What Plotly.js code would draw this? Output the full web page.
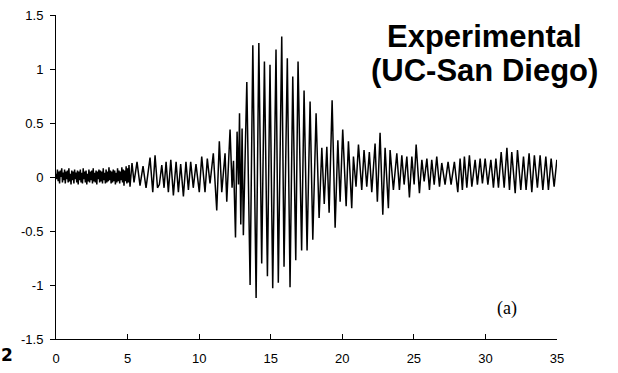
<!DOCTYPE html>
<html>
<head>
<meta charset="utf-8">
<script src="https://cdn.plot.ly/plotly-3.0.1.min.js"></script>
<style>html,body{margin:0;padding:0;background:#fff;}#chart{width:618px;height:373px;}</style>
</head>
<body>
<div id="chart"></div>
<script>
// Pre-event noise (time in s, acceleration)
const noiseTime = [0.00,0.05,0.10,0.15,0.20,0.25,0.30,0.35,0.40,0.45,0.50,0.55,0.60,0.65,0.70,0.75,0.80,0.85,0.90,0.95,1.00,1.05,1.10,1.15,1.20,1.25,1.30,1.35,1.40,1.45,1.50,1.55,1.60,1.65,1.70,1.75,1.80,1.85,1.90,1.95,2.00,2.05,2.10,2.15,2.20,2.25,2.30,2.35,2.40,2.45,2.50,2.55,2.60,2.65,2.70,2.75,2.80,2.85,2.90,2.95,3.00,3.05,3.10,3.15,3.20,3.25,3.30,3.35,3.40,3.45,3.50,3.55,3.60,3.65,3.70,3.75,3.80,3.85,3.90,3.95,4.00,4.05,4.10,4.15,4.20,4.25,4.30,4.35,4.40,4.45,4.50,4.55,4.60,4.65,4.70,4.75,4.80,4.85,4.90,4.95,5.00,5.05,5.10,5.15];
const noiseValue = [0.03,-0.02,0.07,-0.04,0.05,-0.06,0.06,0.00,0.08,-0.05,
  0.04,-0.03,0.07,-0.06,0.05,-0.02,0.06,-0.05,0.08,-0.04,
  0.03,-0.07,0.06,-0.03,0.05,-0.06,0.07,-0.02,0.04,-0.05,
  0.06,-0.07,0.05,-0.03,0.07,-0.05,0.04,-0.06,0.08,-0.02,
  0.05,-0.05,0.06,-0.07,0.03,-0.04,0.07,-0.05,0.05,-0.03,
  0.06,-0.06,0.08,-0.04,0.04,-0.05,0.06,-0.07,0.05,-0.02,
  0.07,-0.05,0.06,-0.04,0.05,-0.06,0.08,-0.03,0.04,-0.06,
  0.07,-0.05,0.05,-0.04,0.09,-0.03,0.06,-0.06,0.05,-0.05,
  0.07,-0.04,0.06,-0.07,0.04,-0.05,0.08,-0.04,0.06,-0.06,
  0.05,-0.03,0.09,-0.05,0.07,-0.08,0.06,-0.04,0.10,-0.06,
  0.08,-0.05,0.11,-0.03];

// Main record: successive peaks and troughs (time in s, acceleration)
const peakTime = [5.17,5.31,5.45,5.66,5.87,6.08,6.29,6.57,6.76,6.92,7.09,7.22,7.39,7.55,7.69,7.85,8.02,8.20,8.39,8.55,8.71,8.90,9.08,9.25,9.41,9.59,9.78,10.01,10.18,10.41,10.57,10.76,10.99,11.23,11.41,11.58,11.81,11.93,12.16,12.30,12.40,12.54,12.65,12.75,12.82,12.91,13.00,13.09,13.33,13.56,13.75,13.98,14.17,14.37,14.56,14.77,14.95,15.14,15.37,15.53,15.77,15.93,16.16,16.35,16.54,16.75,16.91,17.16,17.33,17.54,17.75,17.94,18.17,18.38,18.57,18.74,18.92,19.08,19.29,19.50,19.69,19.85,20.03,20.27,20.43,20.66,20.78,20.96,21.13,21.36,21.52,21.71,21.89,22.06,22.29,22.45,22.64,22.83,22.99,23.22,23.34,23.57,23.81,23.99,24.16,24.32,24.51,24.69,24.86,25.02,25.16,25.39,25.56,25.72,25.91,26.09,26.25,26.42,26.60,26.79,26.95,27.18,27.39,27.60,27.83,28.07,28.23,28.39,28.53,28.70,28.88,29.05,29.28,29.44,29.63,29.79,29.98,30.17,30.38,30.56,30.73,30.91,31.10,31.31,31.50,31.68,31.84,32.08,32.24,32.47,32.66,32.84,33.05,33.24,33.42,33.63,33.82,34.01,34.22,34.40,34.59,34.80,34.99];
const peakValue = [-0.09,0.13,-0.05,0.14,-0.08,0.10,-0.10,0.18,-0.14,0.20,-0.10,-0.07,0.11,-0.10,0.14,-0.14,0.16,-0.17,0.14,-0.14,0.12,-0.18,0.14,-0.12,0.14,-0.10,0.12,-0.14,0.19,-0.14,0.17,-0.06,0.22,-0.31,0.33,-0.14,0.22,-0.23,0.44,-0.10,0.15,-0.56,0.42,-0.07,0.59,-0.44,0.45,-0.54,0.88,-1.00,1.22,-1.12,1.24,-0.80,1.07,-0.92,1.04,-1.03,1.18,-0.98,1.30,-0.83,1.10,-1.02,0.93,-0.77,1.07,-0.68,0.80,-0.68,0.70,-0.58,0.59,-0.38,0.27,-0.25,0.28,-0.33,0.71,-0.47,0.34,-0.23,0.44,-0.27,0.33,-0.29,0.19,-0.09,0.30,-0.12,0.25,-0.09,0.23,-0.14,0.31,-0.23,0.41,-0.35,0.27,-0.29,0.25,-0.12,0.22,-0.12,0.20,-0.07,0.19,-0.19,0.19,-0.07,0.30,-0.15,0.16,-0.04,0.17,-0.12,0.16,-0.07,0.19,-0.09,0.13,-0.07,0.14,-0.07,0.14,-0.14,0.17,-0.12,0.19,-0.10,0.20,-0.09,0.16,-0.07,0.17,-0.06,0.17,-0.07,0.16,-0.10,0.17,-0.10,0.23,-0.10,0.27,-0.12,0.23,-0.15,0.25,-0.12,0.19,-0.12,0.22,-0.14,0.20,-0.10,0.20,-0.12,0.19,-0.12,0.17,-0.09,0.16];

const xTicks = [0,5,10,15,20,25,30,35];
const yTicks = [-1.5,-1,-0.5,0,0.5,1,1.5];
const yTickText = ["-1.5","-1","-0.5","0","0.5","1","1.5"];

const x = noiseTime.concat(peakTime);
const y = noiseValue.concat(peakValue);

const trace = {
  x: x, y: y, type: 'scatter', mode: 'lines',
  line: {color: '#000', width: 1.5},
  hoverinfo: 'skip'
};

const fam = 'Arial, Liberation Sans, sans-serif';
const layout = {
  width: 618, height: 373,
  margin: {l: 56, r: 61, t: 15, b: 34, autoexpand: false},
  paper_bgcolor: '#fff', plot_bgcolor: '#fff',
  showlegend: false,
  font: {family: fam, size: 13, color: '#000'},
  xaxis: {
    range: [0, 35], tickmode: 'array', tickvals: xTicks, ticktext: xTicks.map(String),
    ticks: 'inside', ticklen: 5, tickcolor: '#000', tickwidth: 1,
    showline: true, linecolor: '#000', linewidth: 1, automargin: false,
    showgrid: false, zeroline: false, ticklabelstandoff: 7,
    tickfont: {size: 13, family: fam, color: '#000'}
  },
  yaxis: {
    range: [-1.5, 1.5], tickmode: 'array', tickvals: yTicks, ticktext: yTickText,
    ticks: 'outside', ticklen: 5, tickcolor: '#000', tickwidth: 1,
    showline: true, linecolor: '#000', linewidth: 1, automargin: false,
    showgrid: false, zeroline: false, ticklabelstandoff: 4,
    tickfont: {size: 13, family: fam, color: '#000'}
  },
  annotations: [
    {text: '<b>Experimental</b>', xref: 'paper', yref: 'paper', x: 0.855, y: 0.935, xanchor: 'center', yanchor: 'middle', showarrow: false,
     font: {size: 31, family: fam, color: '#000'}},
    {text: '<b>(UC-San Diego)</b>', xref: 'paper', yref: 'paper', x: 0.855, y: 0.83, xanchor: 'center', yanchor: 'middle', showarrow: false,
     font: {size: 31, family: fam, color: '#000'}},
    {text: '(a)', xref: 'paper', yref: 'paper', x: 0.9, y: 0.093, xanchor: 'center', yanchor: 'middle', showarrow: false,
     font: {size: 18, family: 'Liberation Serif, Times New Roman, serif', color: '#000'}},
    {text: '<b>2</b>', xref: 'paper', yref: 'paper', x: -0.113, y: -0.05, xanchor: 'left', yanchor: 'middle', showarrow: false,
     font: {size: 17, family: 'DejaVu Sans, sans-serif', color: '#000'}}
  ]
};

Plotly.newPlot('chart', [trace], layout, {displayModeBar: false, staticPlot: true});
</script>
</body>
</html>
